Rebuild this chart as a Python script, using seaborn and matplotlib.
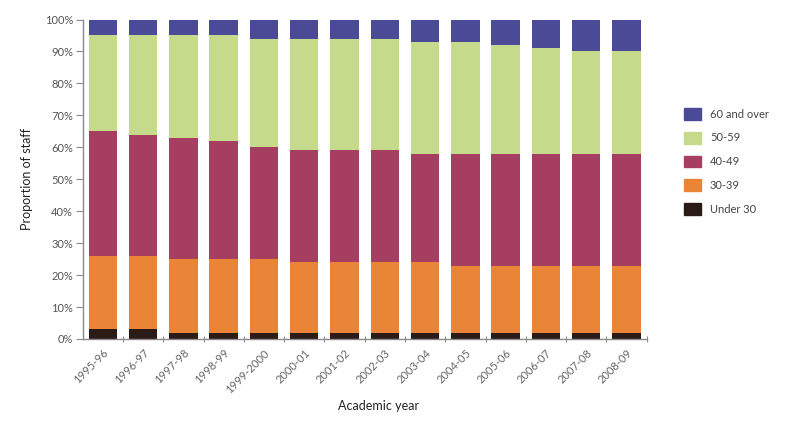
import matplotlib
matplotlib.use("Agg")
import matplotlib.pyplot as plt
import matplotlib.patches as mpatches
from matplotlib.ticker import FixedLocator, PercentFormatter
import numpy as np
import pandas as pd
import seaborn as sns

years = ["1995-96", "1996-97", "1997-98", "1998-99", "1999-2000", "2000-01",
         "2001-02", "2002-03", "2003-04", "2004-05", "2005-06", "2006-07",
         "2007-08", "2008-09"]
under30 = [3, 3, 2, 2, 2, 2, 2, 2, 2, 2, 2, 2, 2, 2]
age30_39 = [23, 23, 23, 23, 23, 22, 22, 22, 22, 21, 21, 21, 21, 21]
age40_49 = [39, 38, 38, 37, 35, 35, 35, 35, 34, 35, 35, 35, 35, 35]
age50_59 = [30, 31, 32, 33, 34, 35, 35, 35, 35, 35, 34, 33, 32, 32]
age60_over = [5, 5, 5, 5, 6, 6, 6, 6, 7, 7, 8, 9, 10, 10]

groups = ["Under 30", "30-39", "40-49", "50-59", "60 and over"]
colors = {"Under 30": "#2b1b16", "30-39": "#ea8538", "40-49": "#a63e62",
          "50-59": "#c6da8b", "60 and over": "#4a4a96"}

df = pd.DataFrame({"year": years, "Under 30": under30, "30-39": age30_39,
                   "40-49": age40_49, "50-59": age50_59,
                   "60 and over": age60_over})
cum = df[groups].cumsum(axis=1)

sns.set_style("white")
plt.rcParams["font.family"] = ["Lato", "DejaVu Sans"]

fig = plt.figure(figsize=(7.92, 4.24), dpi=100)
ax = fig.add_axes([0.1044, 0.2005, 0.8165 - 0.1044, 0.954 - 0.2005])

for g in reversed(groups):
    sns.barplot(x=df["year"], y=cum[g], color=colors[g], saturation=1,
                width=0.705, ax=ax, linewidth=0, errorbar=None)

ax.set_xlim(-0.5, 13.5)
ax.set_ylim(0, 100)
ax.yaxis.set_major_locator(FixedLocator(np.arange(0, 101, 10)))
ax.yaxis.set_major_formatter(PercentFormatter(decimals=0))

for side in ["top", "right"]:
    ax.spines[side].set_visible(False)
for side in ["left", "bottom"]:
    ax.spines[side].set_color("#8a8a8a")
    ax.spines[side].set_linewidth(1.0)

ax.tick_params(axis="y", which="major", left=True, length=5, width=0.8,
               color="#8a8a8a", labelsize=8, labelcolor="#555555", pad=2)
ax.set_xticks(range(len(years)))
ax.set_xticklabels(years, rotation=45, ha="right", rotation_mode="anchor",
                   fontsize=8, color="#666666")
ax.tick_params(axis="x", which="major", bottom=False, length=0, pad=6)
ax.xaxis.set_minor_locator(FixedLocator(np.arange(0.5, 13.6, 1.0)))
ax.tick_params(axis="x", which="minor", bottom=True, length=5, width=0.8,
               color="#8a8a8a", direction="inout")

ax.set_ylabel("Proportion of staff", fontsize=9, color="#222222", labelpad=8)
ax.set_xlabel("Academic year", fontsize=9, color="#222222", labelpad=14)
ax.xaxis.set_label_coords(0.525, -0.19)

handles = [mpatches.Patch(color=colors[g], label=g) for g in reversed(groups)]
fig.legend(handles=handles, loc="upper left", bbox_to_anchor=(0.8636, 0.745),
           frameon=False, fontsize=8, handlelength=1.53, handleheight=1.26,
           labelspacing=1.07, handletextpad=0.8, borderpad=0,
           borderaxespad=0, labelcolor="#444444")

fig.savefig("out.png", dpi=100)
